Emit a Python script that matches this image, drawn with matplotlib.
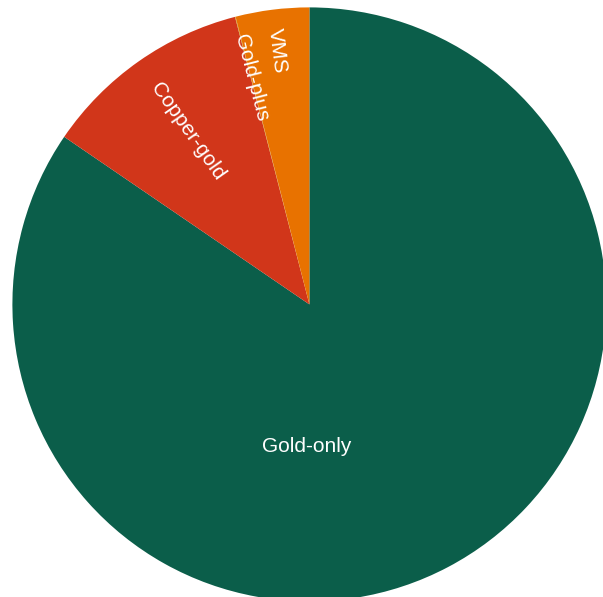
import numpy as np
import matplotlib
matplotlib.use("Agg")
import matplotlib.pyplot as plt

# Share of deposits by type
categories = ["Gold-only", "Copper-gold", "Gold-plus", "VMS"]
shares = [84.55, 11.43, 0.03, 4.0]
colors = ["#0b5e4a", "#d1361a", "#c99a16", "#e87200"]

W, H, DPI = 603, 597, 100
fig = plt.figure(figsize=(W / DPI, H / DPI), dpi=DPI)

cx, cy, R = 309.4, 304.4, 297.0
ax = fig.add_axes([(cx - R) / W, (H - cy - R) / H, 2 * R / W, 2 * R / H])
ax.set_xlim(-1, 1)
ax.set_ylim(-1, 1)
ax.axis("off")

wedges, _ = ax.pie(shares, colors=colors, startangle=90, counterclock=False,
                   radius=1.0, wedgeprops=dict(linewidth=0), frame=True)
ax.set_xlim(-1, 1)
ax.set_ylim(-1, 1)
ax.axis("off")

font = dict(color="white", fontsize=15, family=["Liberation Sans", "DejaVu Sans"],
            ha="center", va="center")

# Large slice: horizontal label below the centre
ax.text(-0.008, -0.48, categories[0], **font)

# Narrow slices: labels running radially inward
radial_pos = {1: 0.712, 2: 0.787, 3: 0.862}
for i, r in radial_pos.items():
    w = wedges[i]
    mid = np.deg2rad((w.theta1 + w.theta2) / 2)
    x, y = r * np.cos(mid), r * np.sin(mid)
    rot = np.rad2deg(mid) - 180
    ax.text(x, y, categories[i], rotation=rot, rotation_mode="anchor", **font)

fig.savefig("out.png", dpi=DPI, facecolor="white")
